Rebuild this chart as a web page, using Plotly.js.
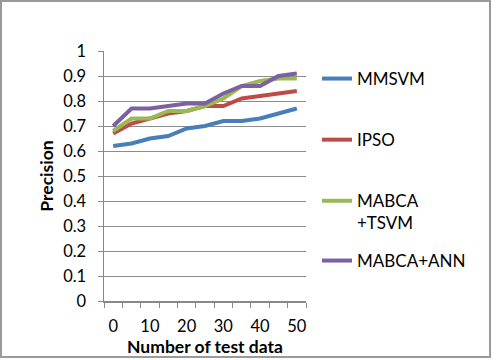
<!DOCTYPE html>
<html>
<head>
<meta charset="utf-8">
<script src="https://cdn.plot.ly/plotly-3.0.1.min.js"></script>
<style>
  html, body { margin: 0; padding: 0; background: #fff; }
  #chart { width: 496px; height: 360px; }
</style>
</head>
<body>
<div id="chart"></div>
<script>
// Number of test data (x) and precision per method
const testData = [0, 5, 10, 15, 20, 25, 30, 35, 40, 45, 50];
const mmsvm     = [0.62, 0.63, 0.65, 0.66, 0.69, 0.70, 0.72, 0.72, 0.73, 0.75, 0.77];
const ipso      = [0.67, 0.71, 0.73, 0.75, 0.76, 0.78, 0.78, 0.81, 0.82, 0.83, 0.84];
const mabcaTsvm = [0.68, 0.73, 0.73, 0.76, 0.76, 0.78, 0.81, 0.86, 0.88, 0.89, 0.89];
const mabcaAnn  = [0.70, 0.77, 0.77, 0.78, 0.79, 0.79, 0.83, 0.86, 0.86, 0.90, 0.91];

const seriesNames = ['MMSVM', 'IPSO', 'MABCA<br>+TSVM', 'MABCA+ANN'];
const seriesValues = [mmsvm, ipso, mabcaTsvm, mabcaAnn];
const seriesColors = ['#4a7ebb', '#be4b48', '#98b954', '#7d60a0'];
// the last entry sits in its own legend box so the spacing after the
// two-line entry stays even
const seriesLegend = ['legend', 'legend', 'legend', 'legend2'];

const xTickVals = [0, 10, 20, 30, 40, 50];
const xBoundaries = [];
for (let i = 0; i <= testData.length; i++) xBoundaries.push(-2.5 + 5 * i);

const FONT = 'Lato, "Open Sans", sans-serif';
const TICK_SIZE = 16.5;
const TITLE_SIZE = 17.5;
const LEGEND_SIZE = 17;

const traces = seriesValues.map((vals, i) => ({
  x: testData,
  y: vals,
  name: seriesNames[i],
  type: 'scatter',
  mode: 'lines',
  legendgroup: 'g' + i,
  legend: seriesLegend[i],
  line: { color: seriesColors[i], width: 4 }
}));

// plot area spans 104..306 px horizontally and 51..301 px vertically
const L = 104, R = 306, T = 51, B = 301;
const px = v => (v - L) / (R - L);
const py = v => (B - v) / (B - T);

const legendBase = {
  xanchor: 'left', yanchor: 'top',
  font: { family: FONT, size: LEGEND_SIZE, color: '#000' },
  valign: 'top',
  itemwidth: 30,
  bgcolor: 'rgba(0,0,0,0)'
};

const layout = {
  width: 496,
  height: 360,
  margin: { l: L, r: 496 - R, t: T, b: 360 - B, pad: 0 },
  paper_bgcolor: '#ffffff',
  plot_bgcolor: '#ffffff',
  font: { family: FONT, size: TICK_SIZE, color: '#000' },
  showlegend: true,
  legend: Object.assign({}, legendBase, { x: px(317), y: py(61), tracegroupgap: 36 }),
  legend2: Object.assign({}, legendBase, { x: px(317), y: py(243) }),
  xaxis: {
    range: [-2.5, 52.5],
    tickmode: 'array',
    tickvals: xTickVals,
    ticktext: xTickVals.map(String),
    ticks: '',
    ticklabelstandoff: 10,
    showgrid: false,
    zeroline: false,
    showline: true,
    linecolor: '#888888',
    linewidth: 1.5,
    tickfont: { family: FONT, size: TICK_SIZE, color: '#000' },
    minor: {
      tickmode: 'array',
      tickvals: xBoundaries,
      ticks: 'outside',
      ticklen: 5,
      tickcolor: '#888888',
      tickwidth: 1,
      showgrid: false
    },
    title: { text: '<b>Number of test data</b>', font: { family: FONT, size: TITLE_SIZE, color: '#000' }, standoff: 0 }
  },
  yaxis: {
    range: [0, 1],
    dtick: 0.1,
    tick0: 0,
    ticks: 'outside',
    ticklen: 5,
    tickcolor: '#888888',
    ticklabelstandoff: 8,
    showgrid: true,
    gridcolor: '#8c8c8c',
    gridwidth: 1,
    zeroline: false,
    showline: true,
    linecolor: '#888888',
    linewidth: 1.5,
    tickfont: { family: FONT, size: TICK_SIZE, color: '#000' },
    title: { text: '<b>Precision</b>', font: { family: FONT, size: TITLE_SIZE, color: '#000' }, standoff: 5 }
  },
  shapes: [{
    type: 'rect', xref: 'paper', yref: 'paper',
    x0: px(1), x1: px(490), y0: py(357), y1: py(1),
    line: { color: '#9a9a9a', width: 2 },
    fillcolor: 'rgba(0,0,0,0)',
    layer: 'below'
  }]
};

Plotly.newPlot('chart', traces, layout, { displayModeBar: false, staticPlot: true });
</script>
</body>
</html>
